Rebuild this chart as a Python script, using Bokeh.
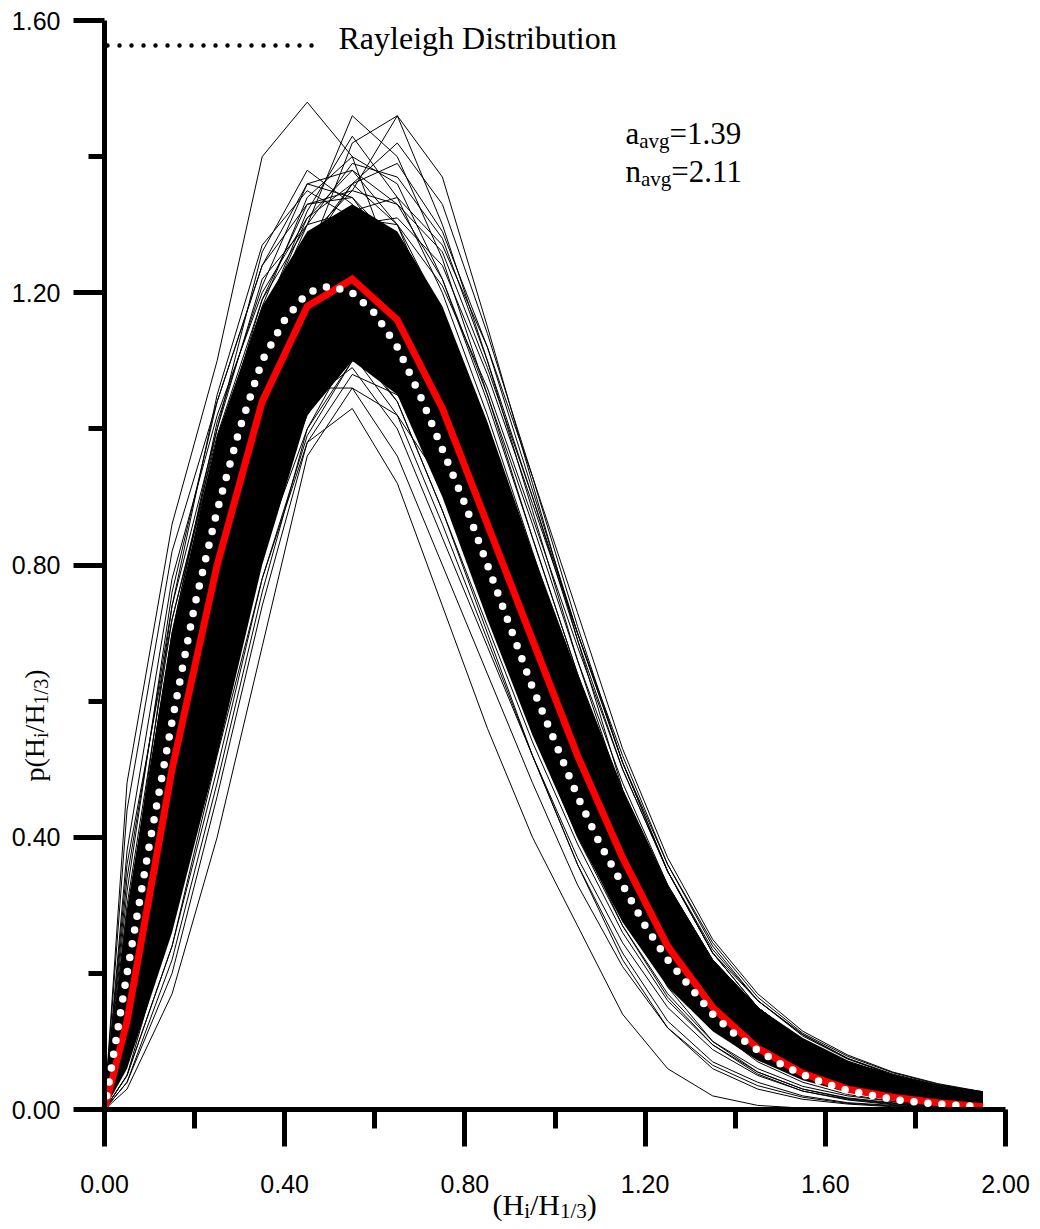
import math
from bokeh.plotting import figure
from bokeh.models import FixedTicker, PrintfTickFormatter, Label, Range1d
from bokeh.embed import file_html
from bokeh.resources import INLINE

# ---------------- data ----------------
x_bins = [0.00, 0.05, 0.15, 0.25, 0.35, 0.45, 0.55, 0.65, 0.75, 0.85, 0.95,
          1.05, 1.15, 1.25, 1.35, 1.45, 1.55, 1.65, 1.75, 1.85, 1.95]

# average measured distribution (red)
mean_pdf = [0.00, 0.13, 0.50, 0.80, 1.04, 1.18, 1.22, 1.16, 1.03, 0.86, 0.69,
            0.52, 0.37, 0.24, 0.15, 0.09, 0.053, 0.030, 0.018, 0.010, 0.004]

# Rayleigh distribution (white dotted)
x_rayleigh = [0.00, 0.05, 0.10, 0.15, 0.20, 0.25, 0.30, 0.35, 0.40, 0.45, 0.50,
              0.55, 0.60, 0.65, 0.70, 0.75, 0.80, 0.85, 0.90, 0.95, 1.00,
              1.05, 1.10, 1.15, 1.20, 1.25, 1.30, 1.35, 1.40, 1.45, 1.50,
              1.55, 1.60, 1.65, 1.70, 1.75, 1.80, 1.85, 1.90, 1.95]
rayleigh_pdf = [0.00, 0.20, 0.39, 0.57, 0.74, 0.88, 1.00, 1.10, 1.16, 1.20, 1.21,
                1.20, 1.17, 1.12, 1.05, 0.97, 0.89, 0.80, 0.71, 0.62, 0.54,
                0.46, 0.39, 0.33, 0.27, 0.22, 0.18, 0.14, 0.11, 0.087, 0.067,
                0.051, 0.038, 0.028, 0.021, 0.015, 0.011, 0.008, 0.006, 0.004]

# dense bundle of individual records (solid black core)
core_lo = [0.00, 0.06, 0.26, 0.52, 0.80, 1.02, 1.10, 1.05, 0.90, 0.72, 0.55,
           0.40, 0.275, 0.18, 0.115, 0.072, 0.043, 0.025, 0.014, 0.008, 0.005]
core_hi = [0.00, 0.29, 0.70, 0.99, 1.18, 1.29, 1.33, 1.29, 1.18, 1.01, 0.82,
           0.64, 0.47, 0.33, 0.22, 0.15, 0.105, 0.072, 0.050, 0.034, 0.024]

# individual records around the bundle
rec_01 = [0, 0.48, 0.86, 1.10, 1.40, 1.48, 1.40, 1.22, 1.00, 0.78, 0.58, 0.42, 0.30, 0.20, 0.12, 0.07, 0.04, 0.022, 0.012, 0.006, 0.003]
rec_02 = [0, 0.44, 0.82, 1.04, 1.24, 1.36, 1.34, 1.25, 1.08, 0.88, 0.68, 0.50, 0.35, 0.24, 0.15, 0.09, 0.05, 0.030, 0.016, 0.009, 0.005]
rec_03 = [0, 0.38, 0.78, 1.02, 1.20, 1.31, 1.36, 1.30, 1.14, 0.94, 0.74, 0.55, 0.39, 0.27, 0.18, 0.11, 0.07, 0.040, 0.024, 0.014, 0.008]
rec_04 = [0, 0.34, 0.74, 1.00, 1.22, 1.30, 1.46, 1.40, 1.25, 1.05, 0.84, 0.64, 0.46, 0.32, 0.21, 0.14, 0.09, 0.060, 0.040, 0.025, 0.015]
rec_05 = [0, 0.22, 0.60, 0.92, 1.14, 1.25, 1.42, 1.46, 1.37, 1.15, 0.92, 0.69, 0.47, 0.30, 0.21, 0.15, 0.10, 0.070, 0.050, 0.035, 0.025]
rec_06 = [0, 0.20, 0.58, 0.90, 1.12, 1.28, 1.35, 1.46, 1.30, 1.10, 0.88, 0.66, 0.46, 0.31, 0.21, 0.14, 0.10, 0.070, 0.050, 0.035, 0.026]
rec_07 = [0, 0.30, 0.72, 0.98, 1.18, 1.34, 1.40, 1.36, 1.22, 1.04, 0.84, 0.64, 0.47, 0.33, 0.22, 0.15, 0.10, 0.070, 0.050, 0.033, 0.022]
rec_08 = [0, 0.28, 0.70, 1.00, 1.26, 1.38, 1.33, 1.24, 1.12, 0.96, 0.78, 0.60, 0.44, 0.30, 0.20, 0.13, 0.08, 0.050, 0.030, 0.020, 0.012]
rec_09 = [0, 0.25, 0.68, 0.97, 1.16, 1.31, 1.38, 1.33, 1.26, 1.09, 0.90, 0.70, 0.52, 0.36, 0.24, 0.16, 0.11, 0.075, 0.052, 0.036, 0.026]
rec_10 = [0, 0.18, 0.55, 0.86, 1.10, 1.26, 1.36, 1.42, 1.33, 1.14, 0.93, 0.71, 0.51, 0.35, 0.23, 0.16, 0.11, 0.075, 0.050, 0.035, 0.025]
rec_11 = [0, 0.24, 0.64, 0.94, 1.16, 1.32, 1.43, 1.34, 1.20, 1.02, 0.82, 0.62, 0.45, 0.31, 0.21, 0.14, 0.09, 0.060, 0.040, 0.026, 0.017]
rec_12 = [0, 0.05, 0.24, 0.52, 0.78, 0.98, 1.03, 0.92, 0.74, 0.56, 0.40, 0.27, 0.14, 0.06, 0.02, 0.006, 0.002, 0.001, 0, 0, 0]
rec_13 = [0, 0.03, 0.17, 0.40, 0.68, 0.96, 1.06, 1.02, 0.92, 0.78, 0.62, 0.46, 0.32, 0.21, 0.13, 0.08, 0.05, 0.030, 0.018, 0.010, 0.006]
rec_14 = [0, 0.04, 0.20, 0.46, 0.74, 0.98, 1.08, 1.05, 0.96, 0.82, 0.66, 0.50, 0.36, 0.24, 0.15, 0.09, 0.055, 0.033, 0.020, 0.012, 0.007]
rec_15 = [0, 0.12, 0.40, 0.70, 0.92, 1.06, 1.06, 0.96, 0.80, 0.64, 0.48, 0.33, 0.21, 0.12, 0.065, 0.035, 0.018, 0.009, 0.005, 0.003, 0.002]
rec_16 = [0, 0.10, 0.38, 0.66, 0.90, 1.04, 1.09, 1.00, 0.84, 0.68, 0.52, 0.36, 0.23, 0.13, 0.07, 0.04, 0.02, 0.010, 0.006, 0.003, 0.002]
rec_17 = [0, 0.08, 0.34, 0.62, 0.86, 1.02, 1.12, 1.04, 0.88, 0.70, 0.52, 0.36, 0.22, 0.12, 0.06, 0.03, 0.015, 0.008, 0.004, 0.002, 0.001]
rec_18 = [0, 0.05, 0.28, 0.56, 0.82, 1.00, 1.10, 1.08, 0.97, 0.80, 0.62, 0.45, 0.30, 0.18, 0.10, 0.055, 0.03, 0.016, 0.009, 0.005, 0.003]
rec_19 = [0, 0.32, 0.76, 1.04, 1.24, 1.33, 1.34, 1.27, 1.14, 0.95, 0.76, 0.57, 0.41, 0.28, 0.19, 0.12, 0.08, 0.050, 0.030, 0.020, 0.012]
rec_20 = [0, 0.36, 0.72, 0.99, 1.19, 1.30, 1.32, 1.22, 1.08, 0.90, 0.72, 0.54, 0.38, 0.26, 0.17, 0.11, 0.07, 0.045, 0.028, 0.017, 0.010]
rec_21 = [0, 0.29, 0.70, 1.01, 1.21, 1.36, 1.38, 1.30, 1.17, 0.99, 0.80, 0.61, 0.44, 0.30, 0.20, 0.13, 0.085, 0.055, 0.035, 0.022, 0.014]
rec_22 = [0, 0.27, 0.74, 1.05, 1.27, 1.35, 1.31, 1.20, 1.06, 0.89, 0.71, 0.53, 0.38, 0.26, 0.17, 0.11, 0.07, 0.045, 0.028, 0.017, 0.010]
rec_23 = [0, 0.22, 0.62, 0.93, 1.15, 1.30, 1.39, 1.37, 1.28, 1.10, 0.90, 0.69, 0.50, 0.35, 0.23, 0.15, 0.10, 0.068, 0.046, 0.031, 0.021]
rec_24 = [0, 0.20, 0.60, 0.92, 1.13, 1.27, 1.36, 1.39, 1.29, 1.12, 0.91, 0.70, 0.51, 0.35, 0.23, 0.15, 0.10, 0.070, 0.048, 0.033, 0.023]
rec_25 = [0, 0.26, 0.66, 0.97, 1.19, 1.33, 1.35, 1.33, 1.22, 1.05, 0.86, 0.66, 0.48, 0.33, 0.22, 0.15, 0.10, 0.066, 0.044, 0.030, 0.020]
rec_26 = [0, 0.16, 0.52, 0.83, 1.07, 1.23, 1.32, 1.34, 1.27, 1.12, 0.93, 0.73, 0.53, 0.37, 0.25, 0.17, 0.115, 0.080, 0.055, 0.038, 0.026]
rec_27 = [0, 0.14, 0.48, 0.80, 1.04, 1.21, 1.30, 1.31, 1.24, 1.08, 0.89, 0.70, 0.51, 0.36, 0.245, 0.165, 0.112, 0.078, 0.054, 0.037, 0.025]
rec_28 = [0, 0.18, 0.56, 0.88, 1.11, 1.25, 1.31, 1.30, 1.21, 1.06, 0.87, 0.68, 0.50, 0.35, 0.235, 0.16, 0.108, 0.074, 0.051, 0.035, 0.024]
rec_29 = [0, 0.04, 0.22, 0.48, 0.76, 1.00, 1.12, 1.12, 1.02, 0.86, 0.69, 0.52, 0.37, 0.25, 0.16, 0.10, 0.06, 0.037, 0.022, 0.013, 0.008]
rec_30 = [0, 0.05, 0.24, 0.50, 0.78, 0.99, 1.10, 1.09, 1.00, 0.85, 0.68, 0.51, 0.36, 0.245, 0.16, 0.10, 0.062, 0.038, 0.023, 0.014, 0.008]
rec_31 = [0, 0.14, 0.44, 0.74, 0.96, 1.10, 1.13, 1.04, 0.88, 0.71, 0.54, 0.39, 0.26, 0.16, 0.095, 0.055, 0.030, 0.017, 0.010, 0.006, 0.003]
rec_32 = [0, 0.16, 0.48, 0.78, 1.00, 1.12, 1.14, 1.06, 0.91, 0.73, 0.56, 0.40, 0.27, 0.17, 0.10, 0.06, 0.034, 0.020, 0.012, 0.007, 0.004]
rec_33 = [0, 0.12, 0.42, 0.72, 0.95, 1.08, 1.11, 1.02, 0.86, 0.69, 0.52, 0.37, 0.245, 0.15, 0.088, 0.05, 0.027, 0.015, 0.008, 0.005, 0.003]
rec_34 = [0, 0.10, 0.36, 0.66, 0.90, 1.06, 1.13, 1.07, 0.93, 0.75, 0.57, 0.41, 0.27, 0.165, 0.095, 0.052, 0.027, 0.014, 0.007, 0.004, 0.002]

records = [rec_01, rec_02, rec_03, rec_04, rec_05, rec_06, rec_07, rec_08, rec_09,
           rec_10, rec_11, rec_12, rec_13, rec_14, rec_15, rec_16, rec_17, rec_18,
           rec_19, rec_20, rec_21, rec_22, rec_23, rec_24, rec_25, rec_26, rec_27,
           rec_28, rec_29, rec_30, rec_31, rec_32, rec_33, rec_34]

x_major = [0.0, 0.4, 0.8, 1.2, 1.6, 2.0]
x_minor = [0.2, 0.6, 1.0, 1.4, 1.8]
y_major = [0.0, 0.4, 0.8, 1.2, 1.6]
y_minor = [0.2, 0.6, 1.0, 1.4]

legend_text = "Rayleigh Distribution"
a_avg = "1.39"
n_avg = "2.11"

# ---------------- figure ----------------
W, H = 1040, 1229
# pixel position of the data box inside the page
PX_LEFT, PX_RIGHT, PX_TOP, PX_BOTTOM = 104, 1005, 20, 1109
X0, X1, Y0, Y1 = 0.0, 2.0, 0.0, 1.6
XPX = (PX_RIGHT - PX_LEFT) / (X1 - X0)
YPX = (PX_BOTTOM - PX_TOP) / (Y1 - Y0)


def dx(px):
    return X0 + (px - PX_LEFT) / XPX


def dy(py):
    return Y0 + (PX_BOTTOM - py) / YPX


p = figure(width=W, height=H, output_backend="svg", toolbar_location=None,
           x_range=Range1d(dx(0), dx(W)), y_range=Range1d(dy(H), dy(0)),
           min_border_left=0, min_border_right=0,
           min_border_top=0, min_border_bottom=0,
           background_fill_color="white", border_fill_color="white")
p.outline_line_color = None
p.grid.visible = False

# axes drawn at the data origin, bounded to the data box
for ax in (p.xaxis[0], p.yaxis[0]):
    ax.fixed_location = 0
    ax.axis_line_width = 5
    ax.axis_line_color = "black"
    ax.major_tick_line_width = 5
    ax.minor_tick_line_width = 5
    ax.major_tick_line_color = "black"
    ax.minor_tick_line_color = "black"
    ax.major_tick_in = 0
    ax.minor_tick_in = 0
    ax.major_label_text_font = "Liberation Sans"
    ax.major_label_text_font_size = "25px"
    ax.major_label_text_color = "black"
    ax.formatter = PrintfTickFormatter(format="%.2f")

p.xaxis[0].bounds = (X0, X1)
p.xaxis[0].ticker = FixedTicker(ticks=x_major, minor_ticks=x_minor)
p.xaxis[0].major_tick_out = 37
p.xaxis[0].minor_tick_out = 19
p.xaxis[0].major_label_standoff = 28

p.yaxis[0].bounds = (Y0, Y1)
p.yaxis[0].ticker = FixedTicker(ticks=y_major, minor_ticks=y_minor)
p.yaxis[0].major_tick_out = 31
p.yaxis[0].minor_tick_out = 16
p.yaxis[0].major_label_standoff = 13

# records
p.varea(x=x_bins, y1=core_lo, y2=core_hi, fill_color="black", fill_alpha=1.0)
p.multi_line(xs=[x_bins] * len(records), ys=records, line_color="black", line_width=1.0)

# average (red)
p.line(x_bins, mean_pdf, line_color="#ff0000", line_width=7, line_join="miter")

# Rayleigh (white dots)
p.line(x_rayleigh, rayleigh_pdf, line_color="white", line_width=7.5,
       line_dash="0 14", line_cap="round")

# legend sample (black dots)
p.line([dx(107), dx(313)], [dy(45), dy(45)], line_color="black", line_width=4.5,
       line_dash="0 12", line_cap="round")

# ---------------- texts ----------------
SERIF = "Liberation Serif"
LIFT = 11  # label baseline correction in pixels
TW = {'p': 0.5, '(': 0.333, ')': 0.333, 'H': 0.722, 'i': 0.278, '/': 0.278,
      '1': 0.5, '3': 0.5, '2': 0.5, '9': 0.5, '.': 0.25, '=': 0.564,
      'a': 0.444, 'v': 0.5, 'g': 0.5, 'n': 0.5}


def width(s, size):
    return sum(TW.get(c, 0.5) for c in s) * size


def put(text, px, py, size, angle=0.0):
    p.add_layout(Label(x=dx(px), y=dy(py), x_units="data", y_units="data",
                       text=text, text_font=SERIF, text_font_size=f"{size}px",
                       text_color="black", text_align="left",
                       text_baseline="alphabetic", angle=angle))


def run(pieces, px, py, size, sub_size, sub_drop):
    py -= LIFT
    for txt, is_sub in pieces:
        s = sub_size if is_sub else size
        put(txt, px, py + (sub_drop if is_sub else 0), s)
        px += width(txt, s)


def run_vertical(pieces, px, py, size, sub_size, sub_drop):
    px -= LIFT
    for txt, is_sub in pieces:
        s = sub_size if is_sub else size
        put(txt, px + (sub_drop if is_sub else 0), py, s, angle=math.pi / 2)
        py -= width(txt, s)


run([(legend_text, False)], 338, 48, 32, 32, 0)

run([("a", False), ("avg", True), ("=" + a_avg, False)], 625, 144, 31, 21, 7)
run([("n", False), ("avg", True), ("=" + n_avg, False)], 625, 182, 31, 21, 7)

# x axis title
run([("(H", False), ("i", True), ("/H", False), ("1/3", True), (")", False)],
    492, 1215, 30, 21, 6)

# y axis title (rotated)
run_vertical([("p(H", False), ("i", True), ("/H", False), ("1/3", True), (")", False)],
             45, 781, 28, 20, 6)

open("out.html", "w").write(file_html(p, INLINE))
